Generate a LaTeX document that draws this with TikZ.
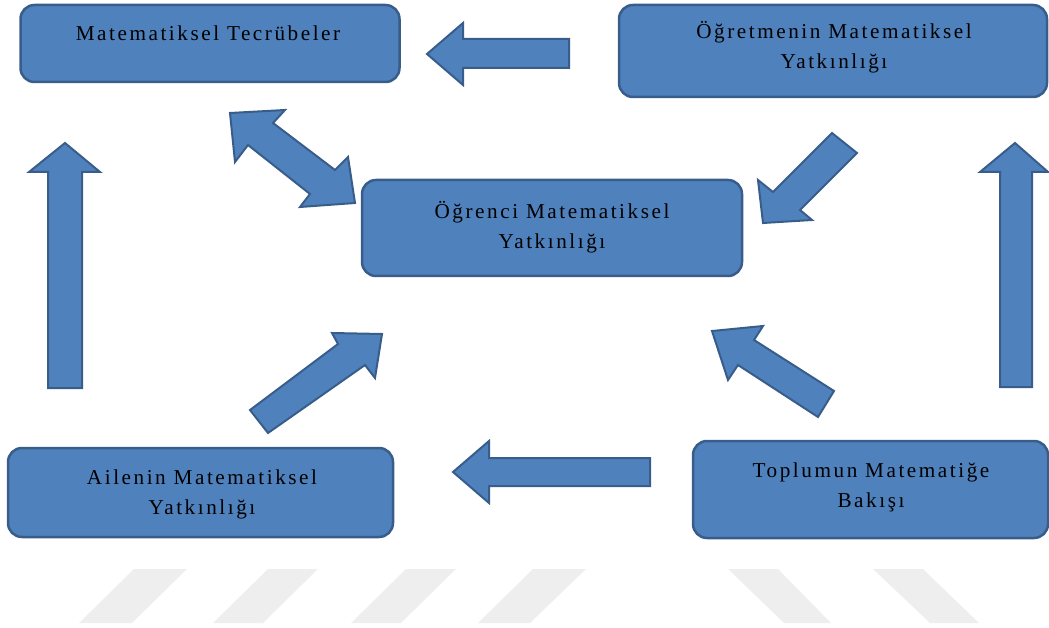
\documentclass[tikz,border=0pt]{standalone}
\usepackage{fontspec}
\setmainfont{Liberation Serif}[LetterSpace=12]
\definecolor{boxfill}{HTML}{4F81BD}
\definecolor{boxline}{HTML}{385D8A}
\definecolor{stripe}{HTML}{EEEEEE}
\begin{document}
\begin{tikzpicture}[x=1pt,y=-1pt,
  box/.style={draw=boxline, fill=boxfill, line width=2.5pt, rounded corners=14pt, inner sep=0pt},
  boxtext/.style={align=center, font=\fontsize{21.2}{30}\selectfont, text=black, inner sep=0pt},
  blockarrow/.style={draw=boxline, fill=boxfill, line width=2pt, line join=miter},
  stripebar/.style={fill=stripe}]
\useasboundingbox (0,0) rectangle (1049,628);

% watermark stripes
\fill[stripebar] (134,569) -- (187,569) -- (132,623) -- (79,623) -- cycle;
\fill[stripebar] (268,569) -- (318,569) -- (263,623) -- (213,623) -- cycle;
\fill[stripebar] (406,569) -- (456,569) -- (401,623) -- (351,623) -- cycle;
\fill[stripebar] (533,569) -- (586,569) -- (530,623) -- (478,623) -- cycle;
\fill[stripebar] (728,569) -- (778,569) -- (831,623) -- (784,623) -- cycle;
\fill[stripebar] (873,569) -- (923,569) -- (979,623) -- (930,623) -- cycle;

% boxes
\node[box, minimum width=379pt, minimum height=77pt] (mt) at (210,43.5) {};
\node[boxtext] (mtt) at (208,33) {Matematiksel Tecrübeler};

\node[box, minimum width=428pt, minimum height=92pt] (ogm) at (833,51) {};
\node[boxtext] (ogmt) at (834,47.5) {Öğretmenin Matematiksel\\Yatkınlığı};

\node[box, minimum width=380pt, minimum height=96pt] (ogr) at (552,228) {};
\node[boxtext] (ogrt) at (552,227) {Öğrenci Matematiksel\\Yatkınlığı};

\node[box, minimum width=385pt, minimum height=89pt] (ail) at (200.5,492.5) {};
\node[boxtext] (ailt) at (202,494) {Ailenin Matematiksel\\Yatkınlığı};

\node[box, minimum width=355pt, minimum height=97pt] (top) at (870.5,489.5) {};
\node[boxtext] (topt) at (871,487.5) {Toplumun Matematiğe\\Bakışı};

% block arrows
% Ogretmen -> Tecrubeler (left)
\path[blockarrow] (427,54) -- (463,23) -- (463,39) -- (569,39) -- (569,68) -- (463,68) -- (463,85) -- cycle;
% double arrow Tecrubeler <-> Ogrenci
\path[blockarrow] (230,113) -- (285,110) -- (273,123) -- (335,170) -- (348,157) -- (355,203)
  -- (300,207) -- (310,194) -- (248,145) -- (235,162) -- cycle;
% Ogretmen -> Ogrenci
\path[blockarrow] (832,133) -- (857,153) -- (800,210) -- (812,220) -- (763,223) -- (758,180) -- (773,192) -- cycle;
% Ailenin -> Tecrubeler (up)
\path[blockarrow] (65,143) -- (100,172) -- (82,172) -- (82,388) -- (48,388) -- (48,172) -- (29,172) -- cycle;
% Toplum -> Ogretmen (up)
\path[blockarrow] (1015,143) -- (1048,172) -- (1032,172) -- (1032,387) -- (1000,387) -- (1000,172) -- (980,172) -- cycle;
% Ailenin -> Ogrenci
\path[blockarrow] (250,410) -- (338,344) -- (332,333) -- (382,334) -- (375,378) -- (365,365) -- (268,433) -- cycle;
% Toplum -> Ogrenci
\path[blockarrow] (834,391) -- (754,340) -- (763,326) -- (712,331) -- (728,380) -- (738,365) -- (818,417) -- cycle;
% Toplum -> Ailenin (left)
\path[blockarrow] (453,472) -- (489,441) -- (489,458) -- (650,458) -- (650,486) -- (489,486) -- (489,503) -- cycle;
\end{tikzpicture}
\end{document}
